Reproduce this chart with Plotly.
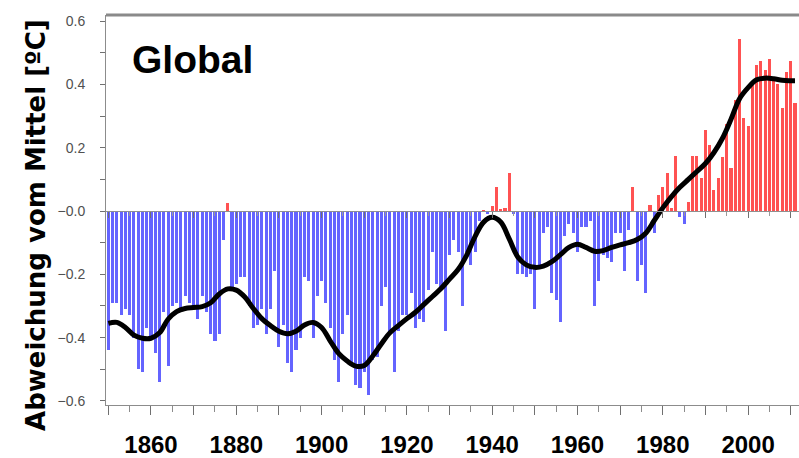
import plotly.graph_objects as go

years = list(range(1850, 2012))
anomaly = [
    -0.44, -0.29, -0.29, -0.33, -0.31, -0.33, -0.40, -0.50, -0.51, -0.37,   # 1850-1859
    -0.40, -0.45, -0.54, -0.32, -0.49, -0.30, -0.29, -0.31, -0.27, -0.29,   # 1860-1869
    -0.31, -0.34, -0.27, -0.32, -0.39, -0.41, -0.39, -0.09, 0.025, -0.24,   # 1870-1879
    -0.23, -0.21, -0.21, -0.30, -0.37, -0.36, -0.31, -0.39, -0.31, -0.19,   # 1880-1889
    -0.43, -0.36, -0.48, -0.51, -0.44, -0.40, -0.21, -0.22, -0.40, -0.27,   # 1890-1899
    -0.22, -0.29, -0.37, -0.47, -0.54, -0.39, -0.33, -0.49, -0.55, -0.56,   # 1900-1909
    -0.51, -0.58, -0.47, -0.46, -0.30, -0.24, -0.39, -0.51, -0.38, -0.33,   # 1910-1919
    -0.33, -0.26, -0.37, -0.34, -0.35, -0.25, -0.13, -0.23, -0.24, -0.38,   # 1920-1929
    -0.14, -0.09, -0.13, -0.30, -0.13, -0.17, -0.13, -0.03, 0.004, -0.01,   # 1930-1939
    0.015, 0.075, 0.005, 0.01, 0.12, -0.01, -0.20, -0.20, -0.21, -0.20,     # 1940-1949
    -0.31, -0.18, -0.07, -0.05, -0.26, -0.28, -0.35, -0.08, -0.04, -0.07,   # 1950-1959
    -0.13, -0.05, -0.05, -0.03, -0.30, -0.22, -0.14, -0.15, -0.16, -0.07,   # 1960-1969
    -0.07, -0.19, -0.06, 0.075, -0.22, -0.17, -0.26, 0.02, -0.07, 0.05,     # 1970-1979
    0.075, 0.12, 0.01, 0.175, -0.02, -0.04, 0.03, 0.175, 0.175, 0.105,      # 1980-1989
    0.255, 0.21, 0.065, 0.105, 0.17, 0.275, 0.135, 0.35, 0.545, 0.295,      # 1990-1999
    0.27, 0.41, 0.46, 0.475, 0.445, 0.48, 0.42, 0.40, 0.325, 0.44,          # 2000-2009
    0.475, 0.34,                                                            # 2010-2011
]

smooth_years = [1850, 1852, 1854, 1856, 1858, 1860, 1862, 1864, 1866, 1868,
                1870, 1872, 1874, 1876, 1878, 1880, 1882, 1884, 1886, 1888,
                1890, 1892, 1894, 1896, 1898, 1900, 1902, 1904, 1906, 1908,
                1910, 1912, 1914, 1916, 1918, 1920, 1922, 1924, 1926, 1928,
                1930, 1932, 1934, 1936, 1938, 1940, 1942, 1944, 1946, 1948,
                1950, 1952, 1954, 1956, 1958, 1960, 1962, 1964, 1966, 1968,
                1970, 1972, 1974, 1976, 1978, 1980, 1982, 1984, 1986, 1988,
                1990, 1992, 1994, 1996, 1998, 2000, 2002, 2004, 2006, 2008,
                2010, 2011]
smooth_vals = [-0.355, -0.352, -0.368, -0.392, -0.402, -0.402, -0.385, -0.342, -0.318, -0.308,
               -0.305, -0.302, -0.29, -0.262, -0.246, -0.25, -0.272, -0.308, -0.34, -0.362,
               -0.38, -0.388, -0.38, -0.36, -0.352, -0.368, -0.41, -0.45, -0.474, -0.49,
               -0.488, -0.458, -0.42, -0.385, -0.362, -0.34, -0.32, -0.295, -0.27, -0.245,
               -0.215, -0.185, -0.14, -0.08, -0.035, -0.02, -0.035, -0.088, -0.145, -0.17,
               -0.178, -0.174, -0.16, -0.138, -0.115, -0.105, -0.115, -0.127, -0.125, -0.115,
               -0.107, -0.1, -0.09, -0.07, -0.03, 0.01, 0.045, 0.075, 0.1, 0.125,
               0.15, 0.185, 0.23, 0.29, 0.355, 0.39, 0.415, 0.42, 0.418, 0.413,
               0.412, 0.412]

x_tickvals = list(range(1850, 2011, 10))
x_ticktext = [str(v) if v % 20 == 0 else "" for v in x_tickvals]
y_tickvals = [-0.6, -0.4, -0.2, 0.0, 0.2, 0.4, 0.6]
y_ticktext = ["\u22120.6", "\u22120.4", "\u22120.2", "\u22120.0", "0.2", "0.4", "0.6"]

BLUE = "#6464ff"
RED = "#ff5252"
colors = [RED if v > 0 else BLUE for v in anomaly]

XR = [1849.45, 2011.94]
YR = [-0.613, 0.6195]
zero_pos = (0 - YR[0]) / (YR[1] - YR[0])

fig = go.Figure()
fig.add_trace(go.Bar(x=years, y=anomaly, marker=dict(color=colors, line=dict(width=0)),
                     width=0.72, showlegend=False))
fig.add_trace(go.Scatter(x=smooth_years, y=smooth_vals, mode="lines",
                         line=dict(color="black", width=5, shape="spline", smoothing=1.0),
                         showlegend=False))

fig.update_layout(
    width=799, height=458,
    margin=dict(l=106, r=0, t=15, b=51),
    paper_bgcolor="white", plot_bgcolor="white",
    bargap=0,
    xaxis=dict(
        range=XR, showgrid=False, zeroline=False,
        showline=True, linecolor="#8c8c8c", linewidth=1,
        ticks="outside", ticklen=9, tickcolor="#707070", tickwidth=1,
        tickmode="array", tickvals=x_tickvals, ticktext=x_ticktext,
        tickfont=dict(family="Liberation Sans, Arial", size=24, color="black", weight="bold"),
        ticklabelstandoff=9,
        minor=dict(dtick=5, tick0=1850, ticks="outside", ticklen=6, tickcolor="#8c8c8c", showgrid=False),
    ),
    xaxis2=dict(
        range=XR, overlaying="x", anchor="free", position=zero_pos, side="bottom",
        showgrid=False, zeroline=False, showline=True, linecolor="#909090", linewidth=1,
        ticks="outside", ticklen=6, tickcolor="#707070",
        tickmode="array", tickvals=x_tickvals, showticklabels=False,
        minor=dict(dtick=5, tick0=1850, ticks="outside", ticklen=4, tickcolor="#9a9a9a", showgrid=False),
        layer="above traces",
    ),
    yaxis=dict(
        range=YR, showgrid=False, zeroline=False,
        showline=True, linecolor="#8c8c8c", linewidth=1,
        ticks="outside", ticklen=5, tickcolor="#707070",
        tickmode="array", tickvals=y_tickvals, ticktext=y_ticktext,
        tickfont=dict(family="Liberation Sans, Arial", size=14, color="#505050"),
        ticklabelstandoff=12,
        minor=dict(tickvals=[-0.5, -0.3, -0.1, 0.1, 0.3, 0.5], ticks="outside", ticklen=5,
                   tickcolor="#707070", showgrid=False),
    ),
    shapes=[dict(type="line", xref="paper", yref="paper", x0=0, x1=1, y0=1, y1=1,
                 line=dict(color="#8a8a8a", width=3))],
    annotations=[
        dict(text="Global", xref="paper", yref="paper", x=0.1255, y=0.885,
             xanchor="center", yanchor="middle", showarrow=False,
             font=dict(family="Liberation Sans, Arial", size=39, color="black", weight="bold")),
        dict(text="Abweichung vom Mittel [ºC]", xref="paper", yref="paper", x=-0.101, y=0.4617,
             xanchor="center", yanchor="middle", showarrow=False, textangle=-90,
             font=dict(family="DejaVu Sans", size=26, color="black", weight="bold")),
    ],
)
fig.add_trace(go.Scatter(x=[XR[0]], y=[0], xaxis="x2", mode="markers",
                         marker=dict(opacity=0), showlegend=False, hoverinfo="skip"))

fig.write_html("out.html")
